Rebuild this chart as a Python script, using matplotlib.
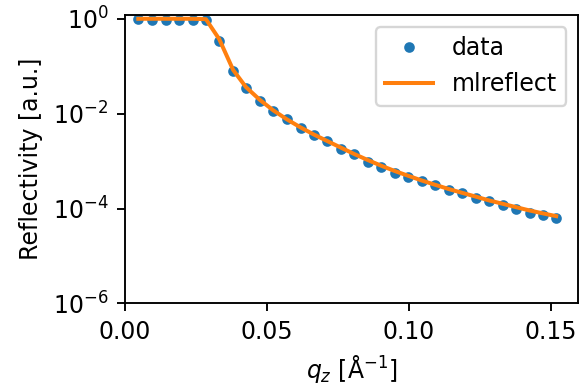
import matplotlib
matplotlib.use("Agg")
import matplotlib.pyplot as plt
import matplotlib.ticker as ticker

# q values (1/A)
q = [0.0047, 0.0096, 0.0144, 0.0191, 0.0239, 0.0285, 0.0332, 0.0381, 0.0426,
     0.0475, 0.0522, 0.0570, 0.0618, 0.0665, 0.0713, 0.0761, 0.0807, 0.0855,
     0.0903, 0.0950, 0.0997, 0.1045, 0.1092, 0.1140, 0.1187, 0.1235, 0.1282,
     0.1329, 0.1376, 0.1424, 0.1471, 0.1518]

data = [0.99, 0.96, 0.95, 0.95, 0.95, 0.95, 0.333, 0.079, 0.0352, 0.0188,
        0.0114, 0.0076, 0.00495, 0.00353, 0.00264, 0.00179, 0.00144, 0.000944,
        0.000741, 0.000573, 0.000457, 0.000376, 0.000309, 0.000251, 0.000214,
        0.000166, 0.000143, 0.000117, 9.9e-5, 8.2e-5, 7.3e-5, 6.4e-5]

fit = [1.0, 1.0, 1.0, 1.0, 1.0, 0.98, 0.372, 0.0832, 0.0363, 0.0195,
       0.01175, 0.00759, 0.00513, 0.00363, 0.00263, 0.00191, 0.00141, 0.00105,
       0.000794, 0.000617, 0.00049, 0.000389, 0.000316, 0.000257, 0.000214,
       0.000178, 0.000148, 0.000126, 0.000107, 9.1e-5, 7.9e-5, 6.9e-5]

dpi = 170
fig = plt.figure(figsize=(581 / dpi, 385 / dpi), dpi=dpi)
ax = fig.add_subplot(111)
fig.subplots_adjust(left=0.215, right=0.995, top=0.961, bottom=0.212)

ax.semilogy(q, data, '.', markersize=7, label='data')
ax.semilogy(q, fit, '-', linewidth=1.7, label='mlreflect')

ax.set_xlim(0, 0.1595)
ax.set_ylim(1e-6, 1.2)
ax.xaxis.set_major_locator(ticker.MultipleLocator(0.05))
ax.yaxis.set_major_locator(ticker.FixedLocator([1e-6, 1e-4, 1e-2, 1e0]))
ax.yaxis.set_minor_locator(ticker.NullLocator())

ax.set_xlabel(r'$q_z$ [Å$^{-1}$]')
ax.set_ylabel('Reflectivity [a.u.]')
ax.legend()

fig.savefig('out.png', dpi=dpi)
